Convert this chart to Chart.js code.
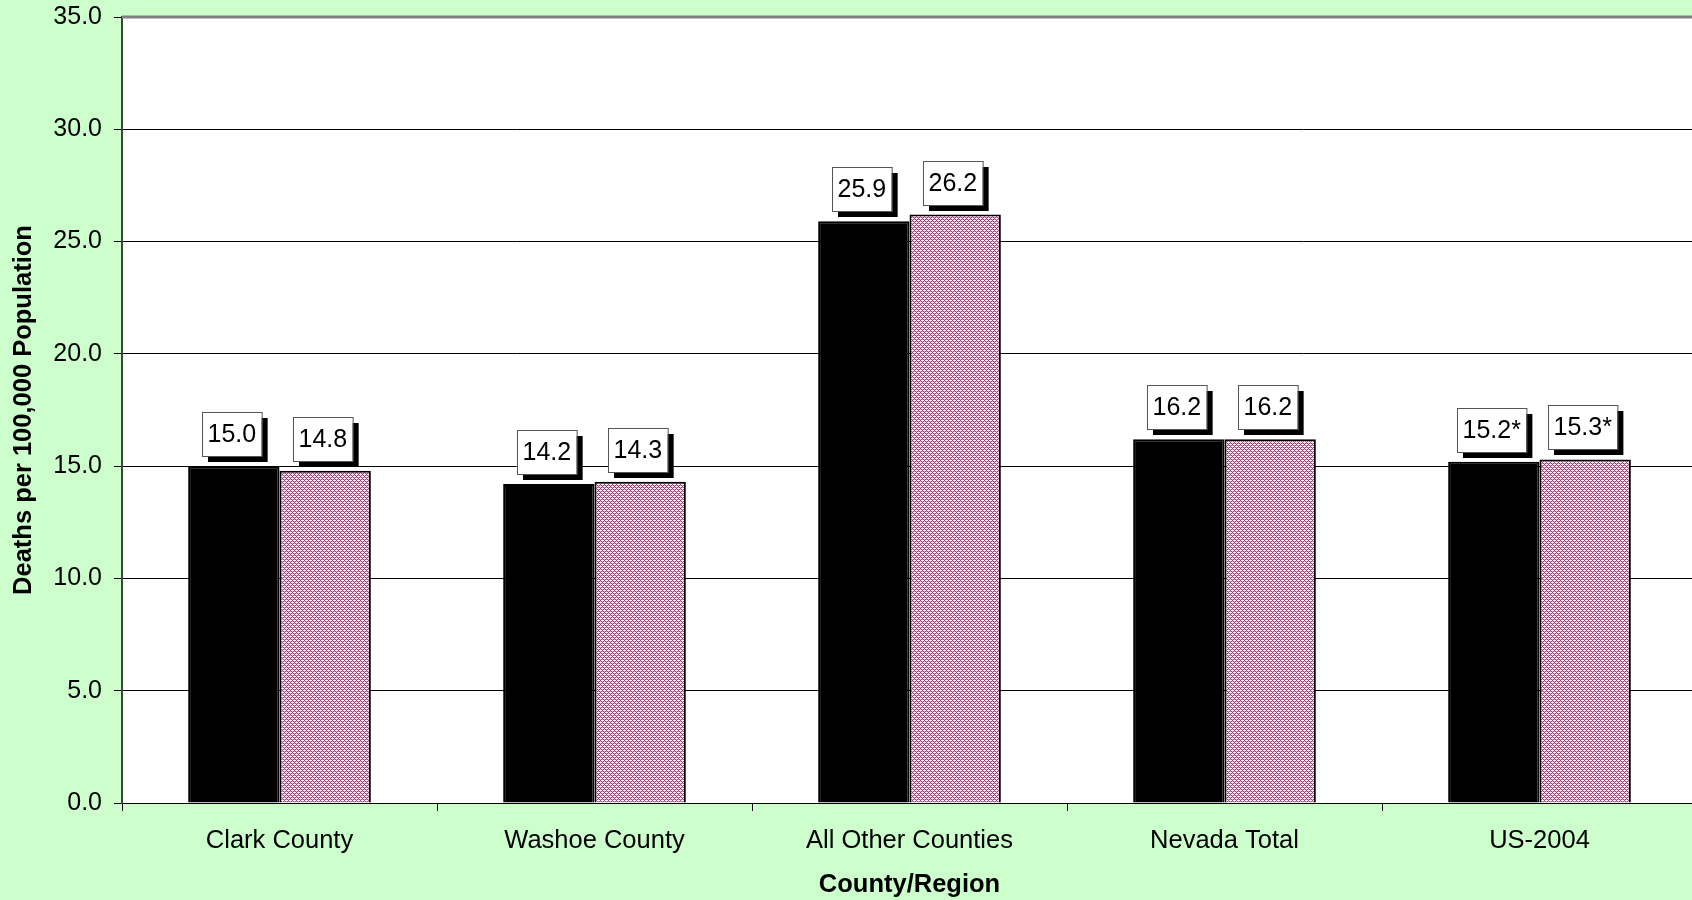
<!DOCTYPE html>
<html>
<head>
<meta charset="utf-8">
<script src="https://cdn.jsdelivr.net/npm/chart.js@4"></script>
<style>
  html, body { margin: 0; padding: 0; background: #ccffcc; overflow: hidden; }
  #wrap { width: 1700px; height: 900px; }
</style>
</head>
<body>
<div id="wrap"><canvas id="deathChart" width="1700" height="900"></canvas></div>
<script>
// data
const regions = ['Clark County', 'Washoe County', 'All Other Counties', 'Nevada Total', 'US-2004'];
const seriesA = [15.0, 14.2, 25.9, 16.2, 15.2];
const seriesB = [14.8, 14.3, 26.2, 16.2, 15.3];
const labelMarks = ['', '', '', '', '*']; // US figures carry an asterisk
const yTicks = [0, 5, 10, 15, 20, 25, 30, 35];

const FONT = 'Arial, "Liberation Sans", sans-serif';

// small pink diagonal crosshatch like the excel fill
function makePattern() {
  const c = document.createElement('canvas');
  c.width = 4; c.height = 4;
  const g = c.getContext('2d');
  g.fillStyle = '#ffffff';
  g.fillRect(0, 0, 4, 4);
  for (let x = 0; x < 4; x++) {
    for (let y = 0; y < 4; y++) {
      if ((x + y) % 4 === 0 || (x - y + 4) % 4 === 0) {
        g.fillStyle = '#a33a76';
        g.fillRect(x, y, 1, 1);
      } else if ((x + y) % 2 === 1 && x % 2 === 0) {
        g.fillStyle = '#dca6c6';
        g.fillRect(x, y, 1, 1);
      }
    }
  }
  return g.createPattern(c, 'repeat');
}

// white plot area + grey top edge
const plotArea = {
  id: 'plotArea',
  beforeDraw(chart) {
    const {ctx, chartArea: a} = chart;
    ctx.save();
    ctx.fillStyle = '#ffffff';
    ctx.fillRect(a.left, a.top, a.right - a.left, a.bottom - a.top);
    ctx.restore();
  },
  afterDraw(chart) {
    const {ctx, chartArea: a} = chart;
    ctx.save();
    ctx.strokeStyle = '#808080';
    ctx.lineWidth = 3;
    ctx.beginPath();
    ctx.moveTo(a.left, a.top);
    ctx.lineTo(a.right + 10, a.top);
    ctx.stroke();
    ctx.restore();
  }
};

// boxed value labels with a black drop shadow
const boxLabels = {
  id: 'boxLabels',
  afterDatasetsDraw(chart) {
    const ctx = chart.ctx;
    ctx.save();
    ctx.font = '25px ' + FONT;
    ctx.textAlign = 'center';
    ctx.textBaseline = 'middle';
    chart.data.datasets.forEach((ds, di) => {
      chart.getDatasetMeta(di).data.forEach((bar, i) => {
        const txt = ds.data[i].toFixed(1) + labelMarks[i];
        const w = ctx.measureText(txt).width + 11;
        const h = 44;
        const cx = bar.x - 2;
        const x = Math.round(cx - w / 2);
        const y = Math.round(bar.y - 10 - h);
        ctx.fillStyle = '#000000';
        ctx.fillRect(x + 6, y + 6, w, h);
        ctx.fillStyle = '#ffffff';
        ctx.fillRect(x, y, w, h);
        ctx.strokeStyle = '#555555';
        ctx.lineWidth = 1;
        ctx.strokeRect(x + 0.5, y + 0.5, w, h);
        ctx.fillStyle = '#000000';
        ctx.fillText(txt, x + w / 2, y + h / 2 + 1);
      });
    });
    ctx.restore();
  }
};

const data = {
  labels: regions,
  datasets: [{
    label: 'Series A',
    data: seriesA,
    backgroundColor: '#000000',
    borderColor: '#000000',
    borderWidth: 2,
    barPercentage: 1,
    categoryPercentage: 0.58
  }, {
    label: 'Series B',
    data: seriesB,
    backgroundColor: makePattern(),
    borderColor: '#000000',
    borderWidth: 2,
    barPercentage: 1,
    categoryPercentage: 0.58
  }]
};

const config = {
  type: 'bar',
  data,
  plugins: [plotArea, boxLabels],
  options: {
    responsive: false,
    animation: false,
    devicePixelRatio: 1,
    layout: { padding: { top: 17, right: 3, left: 0, bottom: 0 } },
    plugins: {
      legend: { display: false },
      tooltip: { enabled: false }
    },
    scales: {
      x: {
        offset: true,
        grid: {
          display: true,
          offset: true,
          drawOnChartArea: false,
          drawTicks: true,
          tickLength: 8,
          color: '#000000'
        },
        border: { color: '#000000', width: 1 },
        ticks: {
          color: '#000000',
          padding: 15,
          maxRotation: 0,
          font: { family: FONT, size: 25.5 }
        },
        title: {
          display: true,
          text: 'County/Region',
          color: '#000000',
          padding: { top: 0, bottom: 0 },
          font: { family: FONT, size: 25.5, weight: 'bold' }
        },
        afterFit(scale) { scale.height = 97; }
      },
      y: {
        min: 0,
        max: 35,
        afterBuildTicks(scale) { scale.ticks = yTicks.map(v => ({ value: v })); },
        grid: {
          color: '#000000',
          lineWidth: 1,
          drawTicks: true,
          tickLength: 8
        },
        border: { color: '#404040', width: 2 },
        ticks: {
          color: '#000000',
          padding: 12,
          font: { family: FONT, size: 25 },
          callback: v => Number(v).toFixed(1)
        },
        title: {
          display: true,
          text: 'Deaths per 100,000 Population',
          color: '#000000',
          padding: { top: 9, bottom: 0 },
          font: { family: FONT, size: 25.5, weight: 'bold' }
        },
        afterFit(scale) {
          scale.width = 122;
          // let the top label hang over the plot edge instead of pushing it down
          scale.paddingTop = 0;
          scale.paddingBottom = 0;
        }
      }
    }
  }
};

const deathChart = new Chart(document.getElementById('deathChart'), config);
</script>
</body>
</html>
